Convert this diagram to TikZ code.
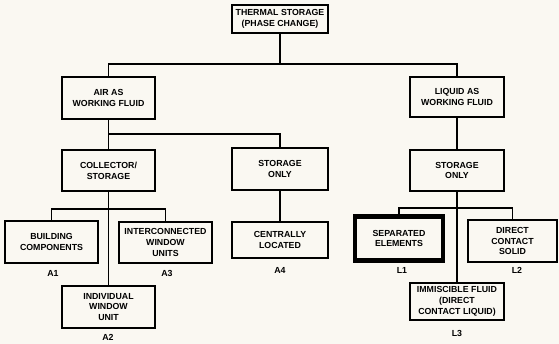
\documentclass[tikz,border=0pt]{standalone}
\usepackage{fontspec}
\setmainfont{Liberation Sans}
\usepackage{xcolor}
\usepackage{tikz}
\usetikzlibrary{positioning, calc}

\definecolor{papercream}{RGB}{250,248,242}

\begin{document}
\begin{tikzpicture}[
  x=0.03cm, y=-0.03cm,
  catbox/.style={rectangle, draw=black, line width=1.6pt,
    align=center, minimum width=2.8cm, minimum height=1.25cm,
    font=\fontsize{7.5}{9.2}\selectfont\bfseries, inner sep=2pt},
  keybox/.style={catbox, line width=4.2pt},
  tag/.style={font=\fontsize{7.5}{8}\selectfont\bfseries, inner sep=1pt},
  conn/.style={line width=1.6pt, draw=black}
]

%% ==== Paper ====
\fill[papercream] (0,0) rectangle (559,344);

%% ==== Root and working fluid ====
\node[catbox, minimum width=2.88cm, minimum height=0.84cm] (root) at (280,19) {THERMAL STORAGE\\(PHASE CHANGE)};
\node[catbox] (air) at (108.5,98) {AIR AS\\WORKING FLUID};
\node[catbox, minimum height=1.2cm] (liq) at (457,97) {LIQUID AS\\WORKING FLUID};

%% ==== Second level ====
\node[catbox] (coll)  at (108.5,170.5) {COLLECTOR/\\STORAGE};
\node[catbox, minimum width=2.88cm] (cstor) at (280,169) {STORAGE\\ONLY};
\node[catbox] (lstor) at (457,170.5) {STORAGE\\ONLY};

%% ==== Air leaves ====
\node[catbox] (bldg)  at (51.5,242)  {BUILDING\\COMPONENTS};
\node[catbox] (inter) at (165.5,242.5) {INTERCONNECTED\\WINDOW\\UNITS};
\node[catbox] (indiv) at (108.5,307) {INDIVIDUAL\\WINDOW\\UNIT};
\node[catbox, minimum width=2.88cm, minimum height=1.08cm] (central) at (280,240) {CENTRALLY\\LOCATED};

%% ==== Liquid leaves ====
\node[keybox, minimum width=2.64cm, minimum height=1.3cm] (sep) at (399,238.5) {SEPARATED\\ELEMENTS};
\node[catbox, minimum width=2.67cm] (direct) at (512.5,241) {DIRECT\\CONTACT\\SOLID};
\node[catbox, minimum height=1.11cm] (immisc) at (457,301.5) {IMMISCIBLE FLUID\\(DIRECT\\CONTACT LIQUID)};

%% ==== Leaf tags ====
\node[tag] (tA1) at (53,273)  {A1};
\node[tag] (tA3) at (167,273) {A3};
\node[tag] (tA2) at (108,337) {A2};
\node[tag] (tA4) at (280,270) {A4};
\node[tag] (tL1) at (402,270) {L1};
\node[tag] (tL2) at (517,270) {L2};
\node[tag] (tL3) at (457,333) {L3};

%% ==== Junctions ====
\coordinate (j1) at (280,64);
\coordinate (j2) at (108.5,134);
\coordinate (j3) at (108.5,209);
\coordinate (j4) at (457,208);

%% ==== Tree lines ====
\draw[conn] (root.south) -- (j1);
\draw[conn] (air.north) |- (j1) -| (liq.north);
\draw[conn] (j2) -| (cstor.north);
\draw[conn] (bldg.north) |- (j3) -| (inter.north);
\draw[conn] (sep.north) |- (j4) -| (direct.north);

\foreach \a/\b in {air/coll, coll/indiv, cstor/central, liq/lstor, lstor/immisc}
  \draw[conn] (\a.south) -- (\b.north);

\end{tikzpicture}
\end{document}
